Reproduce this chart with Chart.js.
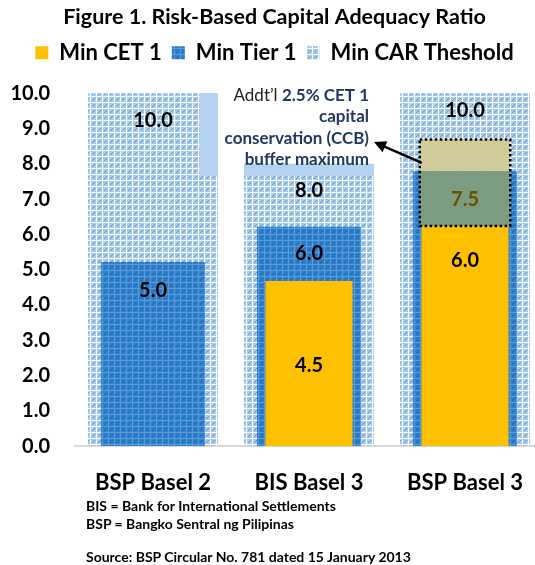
<!DOCTYPE html>
<html>
<head>
<meta charset="utf-8">
<script src="https://cdn.jsdelivr.net/npm/chart.js@4/dist/chart.umd.min.js"></script>
<style>
  body { margin: 0; overflow: hidden; background: #fff; }
  #wrap { position: relative; width: 555px; height: 565px; }
  .note { position: absolute; left: 86px; font: bold 14px Lato, sans-serif; color: #000; white-space: nowrap; }
</style>
</head>
<body>
<div id="wrap">
  <canvas id="chart" width="555" height="565"></canvas>
  <div class="note" style="top:497px">BIS = Bank for International Settlements</div>
  <div class="note" style="top:515px">BSP = Bangko Sentral ng Pilipinas</div>
  <div class="note" style="top:548px">Source: BSP Circular No. 781 dated 15 January 2013</div>
</div>
<script>
// values as drawn in the figure (bar heights) and the labels written on them
const categories = ['BSP Basel 2', 'BIS Basel 3', 'BSP Basel 3'];
const cet1 = [null, 4.68, 6.24];
const tier1 = [5.22, 6.22, 7.79];
const car = [10, 8, 10];
const ccbTop = [null, null, 8.69];

const cet1Labels = ['', '4.5', '6.0'];
const tier1Labels = ['5.0', '6.0', ''];
const carLabels = ['10.0', '8.0', '10.0'];
const ccbLabels = ['', '', '7.5'];

const yTicks = [0, 1, 2, 3, 4, 5, 6, 7, 8, 9, 10];

const FONT = 'Lato';
const TOP_TICK_PX = 93.3; // where 10.0 sits in the figure

function makePattern(base, line, dot) {
  const c = document.createElement('canvas');
  c.width = 6; c.height = 6;
  const g = c.getContext('2d');
  g.fillStyle = base; g.fillRect(0, 0, 6, 6);
  g.fillStyle = line; g.fillRect(0, 0, 6, 1); g.fillRect(0, 0, 1, 6);
  g.fillStyle = dot; g.fillRect(3, 3, 1, 1); g.fillRect(2, 4, 1, 1); g.fillRect(4, 2, 1, 1);
  return g.createPattern(c, 'repeat');
}

const carFill = makePattern('#a8cbec', '#ffffff', '#5b9bd5');
const tier1Fill = makePattern('#2e7fcb', '#5a9ad6', '#1e68b0');

// buffer box pieces: over Tier 1 (green) and over CAR (khaki)
const ccbLow = cet1.map((v, i) => ccbTop[i] == null ? null : [v, tier1[i]]);
const ccbHigh = tier1.map((v, i) => ccbTop[i] == null ? null : [v, ccbTop[i]]);

// label placement below the top of each bar, px
const labelOffsets = {
  car: [27, 27, 17],
  tier1: [29, 27, 0],
  cet1: [0, 85, 35],
  ccb: [0, 0, 28]
};

const annotationPlugin = {
  id: 'ccbNote',
  afterDatasetsDraw(chart) {
    const ctx = chart.ctx;
    const box = { left: 200, top: 85, right: 376, bottom: 176 };
    // text box washes the patterned CAR bars behind it
    const carMeta = chart.getDatasetMeta(2);
    ctx.save();
    ctx.fillStyle = '#b3d3ee';
    carMeta.data.forEach(el => {
      const l = Math.max(el.x - el.width / 2, box.left);
      const r = Math.min(el.x + el.width / 2, box.right);
      const t = Math.max(el.y, box.top);
      const b = Math.min(el.base, box.bottom);
      if (r > l && b > t) ctx.fillRect(l, t, r - l, b - t);
    });

    // dotted outline round the buffer
    const lo = chart.getDatasetMeta(3).data[2];
    const hi = chart.getDatasetMeta(4).data[2];
    const bl = lo.x - lo.width / 2, br = lo.x + lo.width / 2;
    ctx.strokeStyle = '#000';
    ctx.lineWidth = 2.5;
    ctx.setLineDash([2.5, 2.5]);
    ctx.strokeRect(bl, hi.y, br - bl, lo.base - hi.y);
    ctx.setLineDash([]);

    // note text, right aligned
    const rx = 369;
    ctx.textBaseline = 'middle';
    ctx.textAlign = 'right';
    ctx.font = 'bold 17px ' + FONT;
    ctx.fillStyle = '#1f3864';
    const boldPart = '2.5% CET 1';
    ctx.fillText(boldPart, rx, 96);
    const bw = ctx.measureText(boldPart).width;
    ctx.fillText('capital', rx, 117);
    ctx.fillText('conservation (CCB)', rx, 139);
    ctx.fillText('buffer maximum', rx, 160);
    ctx.font = '17px ' + FONT;
    ctx.fillStyle = '#222';
    ctx.fillText('Addt\u2019l ', rx - bw, 96);

    // arrow from the box to the note
    const y = chart.scales.y;
    const tx = bl + 2, ty = y.getPixelForValue(8.03);
    const hx = rx + 5, hy = 142;
    const ang = Math.atan2(hy - ty, hx - tx);
    ctx.strokeStyle = '#000';
    ctx.lineWidth = 2.5;
    ctx.beginPath();
    ctx.moveTo(tx, ty);
    ctx.lineTo(hx - 9 * Math.cos(ang), hy - 9 * Math.sin(ang));
    ctx.stroke();
    ctx.fillStyle = '#000';
    ctx.beginPath();
    ctx.moveTo(hx, hy);
    ctx.lineTo(hx - 12 * Math.cos(ang) + 6 * Math.sin(ang), hy - 12 * Math.sin(ang) - 6 * Math.cos(ang));
    ctx.lineTo(hx - 12 * Math.cos(ang) - 6 * Math.sin(ang), hy - 12 * Math.sin(ang) + 6 * Math.cos(ang));
    ctx.closePath();
    ctx.fill();
    ctx.restore();
  }
};

const valueLabelPlugin = {
  id: 'valueLabels',
  afterDatasetsDraw(chart) {
    const ctx = chart.ctx;
    ctx.save();
    ctx.textAlign = 'center';
    ctx.textBaseline = 'middle';
    chart.data.datasets.forEach((ds, i) => {
      if (!ds.valueLabels) return;
      const meta = chart.getDatasetMeta(i);
      meta.data.forEach((el, j) => {
        const txt = ds.valueLabels[j];
        if (!txt) return;
        ctx.font = 'bold 20px ' + FONT;
        ctx.fillStyle = ds.labelColor || '#000';
        ctx.fillText(txt, el.x, el.y + ds.labelOffsets[j]);
      });
    });
    ctx.restore();
  }
};

const chart = new Chart(document.getElementById('chart'), {
  type: 'bar',
  data: {
    labels: categories,
    datasets: [
      {
        label: 'Min CET 1', data: cet1, backgroundColor: '#ffc000', order: 1,
        barPercentage: 0.558, valueLabels: cet1Labels, labelOffsets: labelOffsets.cet1
      },
      {
        label: 'Min Tier 1', data: tier1, backgroundColor: tier1Fill, order: 2,
        barPercentage: 0.667, valueLabels: tier1Labels, labelOffsets: labelOffsets.tier1
      },
      {
        label: 'Min CAR Theshold', data: car, backgroundColor: carFill, order: 3,
        barPercentage: 0.833, valueLabels: carLabels, labelOffsets: labelOffsets.car
      },
      {
        label: 'ccb-low', data: ccbLow, backgroundColor: '#7b9c80', order: 0,
        barPercentage: 0.58, valueLabels: ccbLabels, labelOffsets: labelOffsets.ccb, labelColor: '#6b5200'
      },
      {
        label: 'ccb-high', data: ccbHigh, backgroundColor: '#cfcc99', order: 0,
        barPercentage: 0.58
      }
    ]
  },
  options: {
    responsive: false,
    animation: false,
    events: [],
    layout: { padding: { left: 6, right: 12, top: 0, bottom: 53.5 } },
    datasets: { bar: { grouped: false, categoryPercentage: 1, borderWidth: 0 } },
    plugins: {
      title: {
        display: true,
        text: 'Figure 1. Risk-Based Capital Adequacy Ratio',
        color: '#000',
        font: { family: FONT, size: 21.5, weight: 'bold' },
        padding: { top: 4, bottom: 2 }
      },
      legend: {
        display: true,
        labels: {
          color: '#000',
          font: { family: FONT, size: 22, weight: 'bold' },
          boxWidth: 13,
          boxHeight: 13,
          padding: 10,
          filter: item => item.datasetIndex < 3
        }
      },
      tooltip: { enabled: false }
    },
    scales: {
      x: {
        grid: { display: false },
        border: { display: true, color: '#d9d9d9', width: 2 },
        ticks: { color: '#000', font: { family: FONT, size: 22, weight: 'bold' }, padding: 15.5 }
      },
      y: {
        min: 0,
        max: 10,
        afterBuildTicks: axis => { axis.ticks = yTicks.map(v => ({ value: v })); },
        afterFit: axis => { axis.width = 69; },
        grid: { display: false },
        border: { display: false },
        ticks: {
          color: '#000',
          font: { family: FONT, size: 20, weight: 'bold' },
          padding: 17,
          callback: v => v.toFixed(1)
        }
      }
    }
  },
  plugins: [annotationPlugin, valueLabelPlugin]
});

// stretch the value range so that 10.0 lands where it does in the figure
const area = chart.chartArea;
const pxPerUnit = (area.bottom - TOP_TICK_PX) / 10;
chart.options.scales.y.max = (area.bottom - area.top) / pxPerUnit;
chart.update();
</script>
</body>
</html>
